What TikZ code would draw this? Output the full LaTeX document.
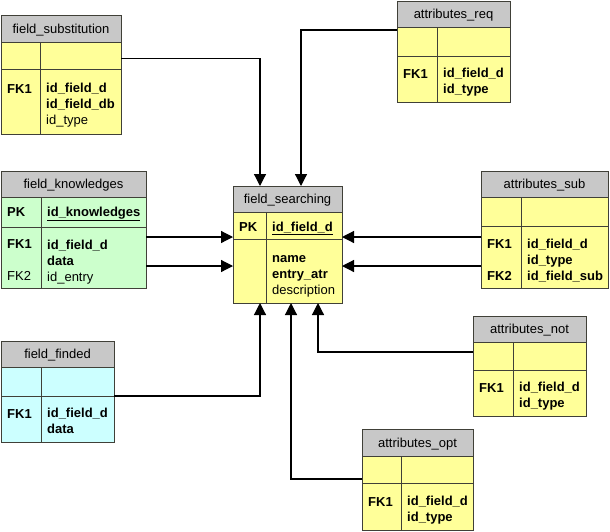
\documentclass[tikz,border=0pt]{standalone}
\usepackage{fontspec}
\setmainfont{Liberation Sans}
\usetikzlibrary{arrows.meta,positioning}
\definecolor{headgray}{RGB}{200,200,200}
\definecolor{tabyellow}{RGB}{255,255,153}
\definecolor{tabgreen}{RGB}{204,255,204}
\definecolor{tabcyan}{RGB}{204,255,255}
\definecolor{tabline}{RGB}{64,64,56}
\tikzset{
    %Define standard arrow tip
    >={Triangle[length=12pt,width=12pt]},
    %Define style for table header
    head/.style={
           rectangle,
           draw=tabline, line width=1pt,
           fill=headgray,
           outer sep=0pt, inner sep=0pt,
           text height=10pt, text depth=1pt,
           font=\fontsize{13}{16}\selectfont,
           anchor=north west},
    %Define style for table cells
    cell/.style={
           rectangle,
           draw=tabline, line width=1pt,
           outer sep=0pt, inner sep=0pt,
           fill=#1},
    cell/.default=tabyellow,
    txt/.style={
           inner sep=0pt,
           align=left,
           font=\fontsize{13}{16}\selectfont,
           execute at begin node=\strut},
    % Define arrow style
    fk/.style={
           ->,
           line width=1.2pt,
           draw=black}
}
\begin{document}
\begin{tikzpicture}[x=1pt,y=-1pt]
\useasboundingbox (0,0) rectangle (610,531);
% field_substitution
\node[head, minimum width=120pt, minimum height=27pt] (fsub) at (1,15) {field\_substitution};
\node[cell, minimum width=39pt, minimum height=27pt, below right=0pt and 0pt of fsub.south west] (fsubk1) {};
\node[cell, minimum width=81pt, minimum height=27pt, right=0pt of fsubk1] (fsubf1) {};
\node[cell, minimum width=39pt, minimum height=65pt, below right=0pt and 0pt of fsubk1.south west] (fsubk2) {};
\node[cell, minimum width=81pt, minimum height=65pt, right=0pt of fsubk2] (fsubf2) {};
\node[txt, below right=13.5pt and 6pt of fsubk2.north west] (fsubkt) {\textbf{FK1}};
\node[txt, below right=13.5pt and 6pt of fsubf2.north west] (fsubft) {\textbf{id\_field\_d}\\\textbf{id\_field\_db}\\id\_type};
% field_knowledges
\node[head, minimum width=145pt, minimum height=26pt] (fknow) at (1,171) {field\_knowledges};
\node[cell=tabgreen, minimum width=40pt, minimum height=30pt, below right=0pt and 0pt of fknow.south west] (fknowk1) {};
\node[cell=tabgreen, minimum width=105pt, minimum height=30pt, right=0pt of fknowk1] (fknowf1) {};
\node[cell=tabgreen, minimum width=40pt, minimum height=61pt, below right=0pt and 0pt of fknowk1.south west] (fknowk2) {};
\node[cell=tabgreen, minimum width=105pt, minimum height=61pt, right=0pt of fknowk2] (fknowf2) {};
\node[txt, below right=8pt and 6pt of fknowk1.north west] (fknowpk) {\textbf{PK}};
\node[txt, below right=8pt and 6pt of fknowf1.north west] (fknowid) {\underline{\textbf{id\_knowledges}}};
\node[txt, below right=12.5pt and 6pt of fknowk2.north west] (fknowkt) {\textbf{FK1}\\{}\\FK2};
\node[txt, below right=12.5pt and 6pt of fknowf2.north west] (fknowft) {\textbf{id\_field\_d}\\\textbf{data}\\id\_entry};
% field_searching
\node[head, minimum width=109pt, minimum height=26pt] (fsearch) at (233,186) {field\_searching};
\node[cell, minimum width=33pt, minimum height=27pt, below right=0pt and 0pt of fsearch.south west] (fsearchk1) {};
\node[cell, minimum width=76pt, minimum height=27pt, right=0pt of fsearchk1] (fsearchf1) {};
\node[cell, minimum width=33pt, minimum height=64pt, below right=0pt and 0pt of fsearchk1.south west] (fsearchk2) {};
\node[cell, minimum width=76pt, minimum height=64pt, right=0pt of fsearchk2] (fsearchf2) {};
\node[txt, below right=8pt and 6pt of fsearchk1.north west] (fsearchpk) {\textbf{PK}};
\node[txt, below right=8pt and 6pt of fsearchf1.north west] (fsearchid) {\underline{\textbf{id\_field\_d}}};
\node[txt, below right=16pt and 6pt of fsearchf2.north west] (fsearchft) {\textbf{name}\\\textbf{entry\_atr}\\description};
% attributes_req
\node[head, minimum width=113pt, minimum height=26pt] (areq) at (397,1) {attributes\_req};
\node[cell, minimum width=40pt, minimum height=29pt, below right=0pt and 0pt of areq.south west] (areqk1) {};
\node[cell, minimum width=73pt, minimum height=29pt, right=0pt of areqk1] (areqf1) {};
\node[cell, minimum width=40pt, minimum height=46pt, below right=0pt and 0pt of areqk1.south west] (areqk2) {};
\node[cell, minimum width=73pt, minimum height=46pt, right=0pt of areqk2] (areqf2) {};
\node[txt, below right=11.5pt and 6pt of areqk2.north west] (areqkt) {\textbf{FK1}};
\node[txt, below right=11.5pt and 6pt of areqf2.north west] (areqft) {\textbf{id\_field\_d}\\\textbf{id\_type}};
% attributes_sub
\node[head, minimum width=127pt, minimum height=26pt] (asub) at (481,171) {attributes\_sub};
\node[cell, minimum width=40pt, minimum height=29pt, below right=0pt and 0pt of asub.south west] (asubk1) {};
\node[cell, minimum width=87pt, minimum height=29pt, right=0pt of asubk1] (asubf1) {};
\node[cell, minimum width=40pt, minimum height=62pt, below right=0pt and 0pt of asubk1.south west] (asubk2) {};
\node[cell, minimum width=87pt, minimum height=62pt, right=0pt of asubk2] (asubf2) {};
\node[txt, below right=13pt and 6pt of asubk2.north west] (asubkt) {\textbf{FK1}\\{}\\\textbf{FK2}};
\node[txt, below right=13pt and 6pt of asubf2.north west] (asubft) {\textbf{id\_field\_d}\\\textbf{id\_type}\\\textbf{id\_field\_sub}};
% attributes_not
\node[head, minimum width=113pt, minimum height=26pt] (anot) at (473,316) {attributes\_not};
\node[cell, minimum width=40pt, minimum height=28pt, below right=0pt and 0pt of anot.south west] (anotk1) {};
\node[cell, minimum width=73pt, minimum height=28pt, right=0pt of anotk1] (anotf1) {};
\node[cell, minimum width=40pt, minimum height=46pt, below right=0pt and 0pt of anotk1.south west] (anotk2) {};
\node[cell, minimum width=73pt, minimum height=46pt, right=0pt of anotk2] (anotf2) {};
\node[txt, below right=11.5pt and 6pt of anotk2.north west] (anotkt) {\textbf{FK1}};
\node[txt, below right=11.5pt and 6pt of anotf2.north west] (anotft) {\textbf{id\_field\_d}\\\textbf{id\_type}};
% field_finded
\node[head, minimum width=113pt, minimum height=26pt] (ffind) at (1,341) {field\_finded};
\node[cell=tabcyan, minimum width=40pt, minimum height=29pt, below right=0pt and 0pt of ffind.south west] (ffindk1) {};
\node[cell=tabcyan, minimum width=73pt, minimum height=29pt, right=0pt of ffindk1] (ffindf1) {};
\node[cell=tabcyan, minimum width=40pt, minimum height=46pt, below right=0pt and 0pt of ffindk1.south west] (ffindk2) {};
\node[cell=tabcyan, minimum width=73pt, minimum height=46pt, right=0pt of ffindk2] (ffindf2) {};
\node[txt, below right=11.5pt and 6pt of ffindk2.north west] (ffindkt) {\textbf{FK1}};
\node[txt, below right=11.5pt and 6pt of ffindf2.north west] (ffindft) {\textbf{id\_field\_d}\\\textbf{data}};
% attributes_opt
\node[head, minimum width=111pt, minimum height=27pt] (aopt) at (362,429) {attributes\_opt};
\node[cell, minimum width=39pt, minimum height=27pt, below right=0pt and 0pt of aopt.south west] (aoptk1) {};
\node[cell, minimum width=72pt, minimum height=27pt, right=0pt of aoptk1] (aoptf1) {};
\node[cell, minimum width=39pt, minimum height=47pt, below right=0pt and 0pt of aoptk1.south west] (aoptk2) {};
\node[cell, minimum width=72pt, minimum height=47pt, right=0pt of aoptk2] (aoptf2) {};
\node[txt, below right=12.5pt and 6pt of aoptk2.north west] (aoptkt) {\textbf{FK1}};
\node[txt, below right=12.5pt and 6pt of aoptf2.north west] (aoptft) {\textbf{id\_field\_d}\\\textbf{id\_type}};
% references
\draw[fk] ([yshift=-3pt]fsubf1.east) -| ([xshift=27pt]fsearch.north west);
\draw[fk] ([yshift=-3pt]areqk1.north west) -| ([xshift=68pt]fsearch.north west);
\draw[fk] ([yshift=-10pt]fknowf2.north east) -- ([yshift=-10pt]fknowf2.north east -| fsearchk1.west);
\draw[fk] ([yshift=-39pt]fknowf2.north east) -- ([yshift=-39pt]fknowf2.north east -| fsearchk2.west);
\draw[fk] ([yshift=-11pt]asubk2.north west) -- ([yshift=-11pt]asubk2.north west -| fsearchf1.east);
\draw[fk] ([yshift=-40pt]asubk2.north west) -- ([yshift=-40pt]asubk2.north west -| fsearchf2.east);
\draw[fk] ([yshift=-10pt]anotk1.north west) -| ([xshift=-24pt]fsearchf2.south east);
\draw[fk] (ffindf1.south east) -| ([xshift=27pt]fsearchk2.south west);
\draw[fk] ([yshift=4pt]aoptk1.south west) -| ([xshift=58pt]fsearchk2.south west);
\end{tikzpicture}
\end{document}
